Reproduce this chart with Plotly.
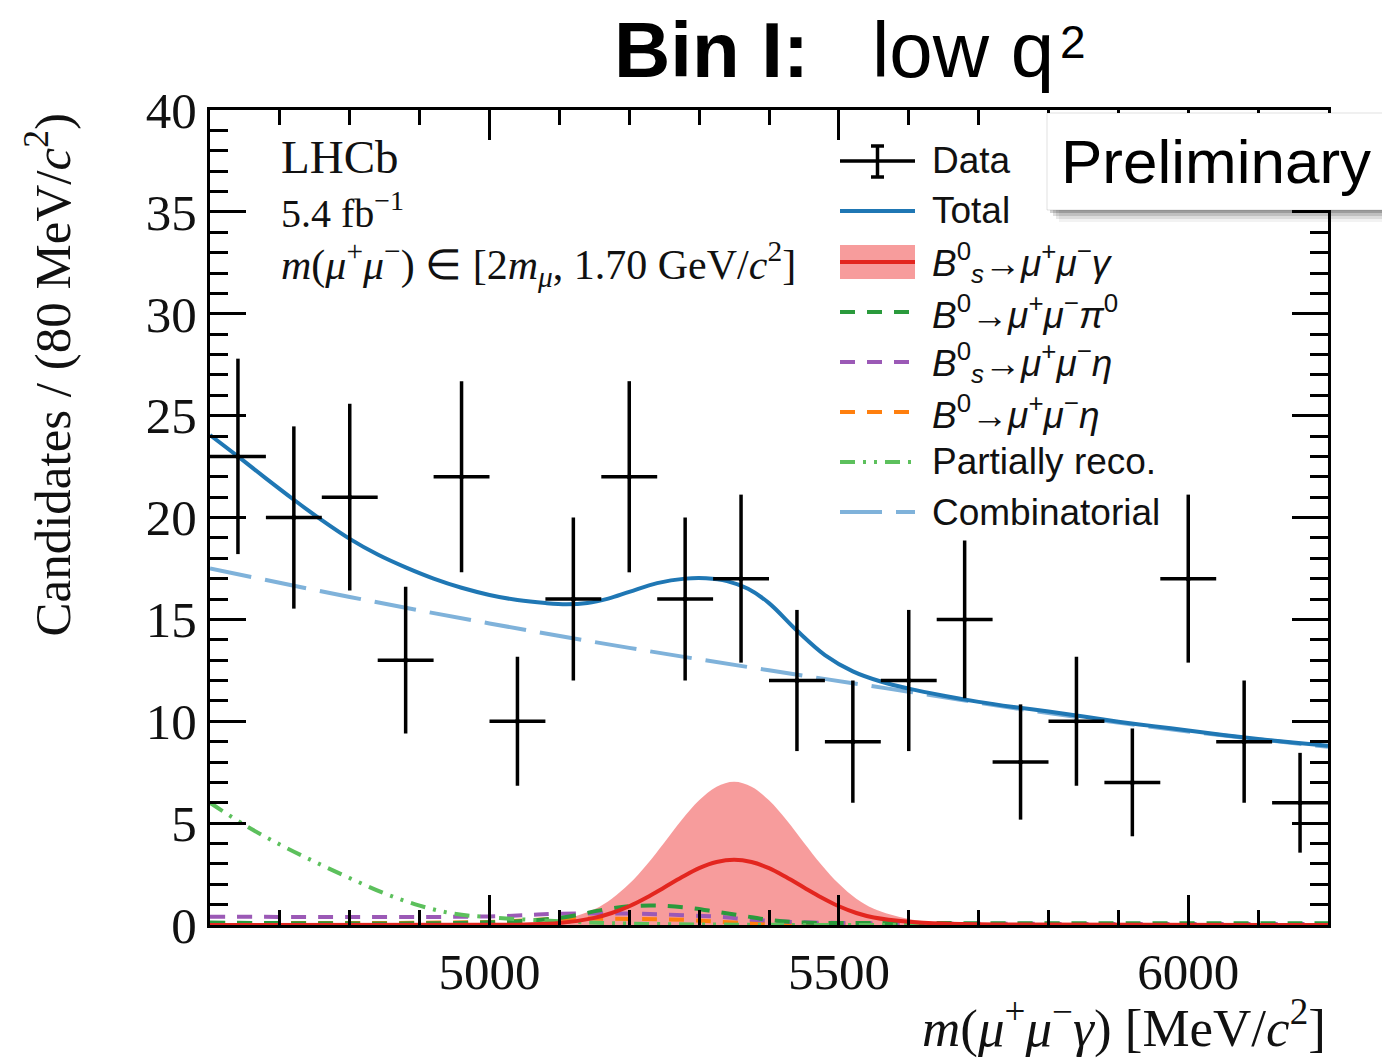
import numpy as np
import plotly.graph_objects as go

# ---------------- data ----------------
bin_centers = [4640, 4720, 4800, 4880, 4960, 5040, 5120, 5200, 5280, 5360,
               5440, 5520, 5600, 5680, 5760, 5840, 5920, 6000, 6080, 6160]
counts = [23, 20, 21, 13, 22, 10, 16, 22, 16, 17,
          12, 9, 12, 15, 8, 10, 7, 17, 9, 6]
half_bin = 40
count_err = [float(np.sqrt(c)) for c in counts]

total_m = [4600, 4640, 4680, 4720, 4760, 4800, 4840, 4880, 4920, 4960, 5000, 5040,
           5080, 5110, 5140, 5170, 5200, 5240, 5280, 5310, 5340, 5370, 5400, 5440,
           5480, 5520, 5560, 5600, 5650, 5700, 5750, 5800, 5850, 5900, 5950, 6000,
           6050, 6100, 6150, 6200]
total_y = [24.05, 23.0, 21.92, 20.87, 19.87, 18.95, 18.18, 17.55, 17.0, 16.55, 16.2, 15.95,
           15.8, 15.74, 15.8, 16.02, 16.35, 16.78, 17.0, 17.02, 16.88, 16.5, 15.8, 14.45,
           13.25, 12.45, 11.95, 11.6, 11.25, 10.95, 10.7, 10.48, 10.23, 9.98, 9.76, 9.55,
           9.33, 9.13, 8.96, 8.8]

comb_m = [4600, 4800, 5000, 5200, 5400, 5600, 5800, 6000, 6200]
comb_y = [17.5, 16.1, 14.8, 13.6, 12.5, 11.45, 10.4, 9.5, 8.75]

sig_m = [4600, 5000, 5050, 5100, 5150, 5175, 5200, 5225, 5250, 5275, 5300, 5325, 5350,
         5375, 5400, 5425, 5450, 5475, 5500, 5525, 5550, 5600, 5650, 5750, 6200]
sig_y = [0.0, 0.01, 0.03, 0.1, 0.35, 0.59, 0.92, 1.35, 1.84, 2.34, 2.79, 3.09, 3.2,
         3.09, 2.79, 2.34, 1.84, 1.35, 0.92, 0.59, 0.37, 0.16, 0.07, 0.02, 0.0]
band_y = [0.0, 0.03, 0.08, 0.22, 0.77, 1.29, 2.02, 2.96, 4.04, 5.15, 6.12, 6.79, 7.03,
          6.79, 6.12, 5.15, 4.04, 2.96, 2.02, 1.29, 0.8, 0.3, 0.12, 0.04, 0.0]

preco_m = [4600, 4650, 4700, 4750, 4800, 4850, 4900, 4950, 5000, 5100, 5200, 5400, 6200]
preco_y = [6.0, 4.9, 3.95, 3.1, 2.3, 1.55, 0.95, 0.55, 0.38, 0.18, 0.07, 0.01, 0.0]

pi0_m = [4600, 5000, 5100, 5168, 5205, 5244, 5284, 5325, 5363, 5401, 5450, 5550, 6200]
pi0_y = [0.12, 0.13, 0.35, 0.78, 0.93, 0.95, 0.85, 0.65, 0.45, 0.25, 0.12, 0.1, 0.08]

bseta_m = [4600, 5000, 5100, 5200, 5280, 5330, 5370, 5420, 5500, 6200]
bseta_y = [0.41, 0.42, 0.55, 0.56, 0.48, 0.4, 0.28, 0.17, 0.1, 0.05]

b0eta_m = [4600, 5000, 5100, 5200, 5280, 5350, 5450, 6200]
b0eta_y = [0.1, 0.15, 0.3, 0.3, 0.25, 0.12, 0.05, 0.02]

# ---------------- colours ----------------
c_total = "#1f77b4"
c_comb = "#7fb2da"
c_sig = "#e3261f"
c_band = "rgba(246,145,145,0.9)"
c_pi0 = "#2a9a3c"
c_bseta = "#9b59b6"
c_b0eta = "#ff7f0e"
c_preco = "#5cc05c"

fig = go.Figure()

fig.add_trace(go.Scatter(x=sig_m, y=band_y, mode="lines", line=dict(width=0, shape="spline"),
                         fill="tozeroy", fillcolor=c_band, hoverinfo="skip", showlegend=False))
fig.add_trace(go.Scatter(x=comb_m, y=comb_y, mode="lines",
                         line=dict(color=c_comb, width=4, dash="42px,14px", shape="spline"),
                         showlegend=False))
fig.add_trace(go.Scatter(x=b0eta_m, y=b0eta_y, mode="lines",
                         line=dict(color=c_b0eta, width=4, dash="15px,12px", shape="spline"),
                         showlegend=False))
fig.add_trace(go.Scatter(x=bseta_m, y=bseta_y, mode="lines",
                         line=dict(color=c_bseta, width=4, dash="15px,12px", shape="spline"),
                         showlegend=False))
fig.add_trace(go.Scatter(x=pi0_m, y=pi0_y, mode="lines",
                         line=dict(color=c_pi0, width=4, dash="15px,12px", shape="spline"),
                         showlegend=False))
fig.add_trace(go.Scatter(x=preco_m, y=preco_y, mode="lines",
                         line=dict(color=c_preco, width=4, dash="15px,8px,3px,8px,3px,8px",
                                   shape="spline"),
                         showlegend=False))
fig.add_trace(go.Scatter(x=sig_m, y=sig_y, mode="lines",
                         line=dict(color=c_sig, width=4, shape="spline"), showlegend=False))
fig.add_trace(go.Scatter(x=total_m, y=total_y, mode="lines",
                         line=dict(color=c_total, width=4, shape="spline", smoothing=1.0),
                         showlegend=False))
fig.add_trace(go.Scatter(
    x=bin_centers, y=counts, mode="markers",
    marker=dict(color="black", size=5),
    error_x=dict(type="constant", value=half_bin, width=0, thickness=3.5, color="black"),
    error_y=dict(type="data", array=count_err, width=0, thickness=3.5, color="black"),
    showlegend=False))

# ---------------- layout helpers ----------------
W, H = 1382, 1058
L, R, T, B = 210, 54, 110, 133
PW, PH = W - L - R, H - T - B


def px(x):
    return (x - L) / PW


def py(y):
    return (H - B - y) / PH


serif = "Liberation Serif, Times New Roman, serif"
sans = "Liberation Sans, Arial, Helvetica, sans-serif"

shapes = []
annotations = []

# Legend (drawn manually)
lx0, lx1, ltx = 840, 915, 930
rows = [161, 211, 262, 312, 362, 412, 462, 512]
labels = [
    "Data",
    "Total",
    "<i>B</i><sup>0</sup><sub><i>s</i></sub>\u2192<i>\u03bc</i><sup>+</sup><i>\u03bc</i><sup>\u2212</sup><i>\u03b3</i>",
    "<i>B</i><sup>0</sup>\u2192<i>\u03bc</i><sup>+</sup><i>\u03bc</i><sup>\u2212</sup><i>\u03c0</i><sup>0</sup>",
    "<i>B</i><sup>0</sup><sub><i>s</i></sub>\u2192<i>\u03bc</i><sup>+</sup><i>\u03bc</i><sup>\u2212</sup><i>\u03b7</i>",
    "<i>B</i><sup>0</sup>\u2192<i>\u03bc</i><sup>+</sup><i>\u03bc</i><sup>\u2212</sup><i>\u03b7</i>",
    "Partially reco.",
    "Combinatorial",
]
for yy, lab in zip(rows, labels):
    annotations.append(dict(xref="paper", yref="paper", x=px(ltx), y=py(yy), text=lab,
                            showarrow=False, xanchor="left", yanchor="middle",
                            font=dict(family=sans, size=37, color="#111")))

# data symbol
shapes.append(dict(type="line", xref="paper", yref="paper", x0=px(lx0), x1=px(lx1),
                   y0=py(161), y1=py(161), line=dict(color="black", width=3.5)))
shapes.append(dict(type="line", xref="paper", yref="paper", x0=px(877.5), x1=px(877.5),
                   y0=py(146), y1=py(177), line=dict(color="black", width=3.5)))
for cy in (146, 177):
    shapes.append(dict(type="line", xref="paper", yref="paper", x0=px(871), x1=px(884),
                       y0=py(cy), y1=py(cy), line=dict(color="black", width=3.5)))
# total
shapes.append(dict(type="line", xref="paper", yref="paper", x0=px(lx0), x1=px(lx1),
                   y0=py(211), y1=py(211), line=dict(color=c_total, width=4)))
# signal band + line
shapes.append(dict(type="rect", xref="paper", yref="paper", x0=px(lx0), x1=px(lx1),
                   y0=py(279), y1=py(245), fillcolor=c_band, line=dict(width=0)))
shapes.append(dict(type="line", xref="paper", yref="paper", x0=px(lx0), x1=px(lx1),
                   y0=py(262), y1=py(262), line=dict(color=c_sig, width=4)))
for yy, col, dash in [(312, c_pi0, "15px,12px"), (362, c_bseta, "15px,12px"),
                      (412, c_b0eta, "15px,12px"),
                      (462, c_preco, "15px,8px,3px,8px,3px,8px"),
                      (512, c_comb, "42px,14px")]:
    shapes.append(dict(type="line", xref="paper", yref="paper", x0=px(lx0), x1=px(lx1),
                       y0=py(yy), y1=py(yy), line=dict(color=col, width=4, dash=dash)))

# LHCb labels
annotations += [
    dict(xref="paper", yref="paper", x=px(279), y=py(157), text="LHCb", showarrow=False,
         xanchor="left", yanchor="middle", font=dict(family=serif, size=47, color="#111")),
    dict(xref="paper", yref="paper", x=px(279), y=py(211), text="5.4 fb<sup>\u22121</sup>",
         showarrow=False, xanchor="left", yanchor="middle",
         font=dict(family=serif, size=40, color="#111")),
    dict(xref="paper", yref="paper", x=px(279), y=py(264),
         text="<i>m</i>(<i>\u03bc</i><sup>+</sup><i>\u03bc</i><sup>\u2212</sup>) \u2208 [2<i>m</i><sub><i>\u03bc</i></sub>, 1.70 GeV/<i>c</i><sup>2</sup>]",
         showarrow=False, xanchor="left", yanchor="middle",
         font=dict(family=serif, size=42, color="#111")),
]

# Title
annotations += [
    dict(xref="paper", yref="paper", x=px(612), y=py(50), text="<b>Bin I:</b>",
         showarrow=False, xanchor="left", yanchor="middle",
         font=dict(family=sans, size=78, color="black")),
    dict(xref="paper", yref="paper", x=px(870), y=py(50), text="low q",
         showarrow=False, xanchor="left", yanchor="middle",
         font=dict(family=sans, size=78, color="black")),
    dict(xref="paper", yref="paper", x=px(1058), y=py(42), text="2",
         showarrow=False, xanchor="left", yanchor="middle",
         font=dict(family=sans, size=46, color="black")),
]

# Preliminary box with soft shadow
for off, op in [(12, 0.05), (9, 0.09), (6, 0.13), (3, 0.18)]:
    shapes.append(dict(type="rect", xref="paper", yref="paper",
                       x0=px(1047 + off), x1=px(1390), y0=py(210 + off), y1=py(113 + off),
                       fillcolor=f"rgba(0,0,0,{op})", line=dict(width=0), layer="above"))
shapes.append(dict(type="rect", xref="paper", yref="paper", x0=px(1047), x1=px(1390),
                   y0=py(210), y1=py(113), fillcolor="white",
                   line=dict(width=1, color="rgba(0,0,0,0.12)"), layer="above"))
annotations.append(dict(xref="paper", yref="paper", x=px(1216), y=py(162), text="Preliminary",
                        showarrow=False, xanchor="center", yanchor="middle",
                        font=dict(family=sans, size=62, color="black")))

# Axis titles
annotations.append(dict(xref="paper", yref="paper", x=px(48), y=py(112),
                        text="Candidates / (80 MeV/<i>c</i><sup>2</sup>)", textangle=-90,
                        showarrow=False, xanchor="center", yanchor="top",
                        font=dict(family=serif, size=51, color="#111")))
annotations.append(dict(xref="paper", yref="paper", x=1.0, y=py(1024),
                        text="<i>m</i>(<i>\u03bc</i><sup>+</sup><i>\u03bc</i><sup>\u2212</sup><i>\u03b3</i>) [MeV/<i>c</i><sup>2</sup>]",
                        showarrow=False, xanchor="right", yanchor="middle",
                        font=dict(family=serif, size=53, color="#111")))

fig.update_layout(
    width=W, height=H,
    margin=dict(l=L, r=R, t=T, b=B),
    paper_bgcolor="white", plot_bgcolor="white",
    showlegend=False,
    shapes=shapes, annotations=annotations,
    xaxis=dict(range=[4600, 6200], tick0=5000, dtick=500, ticks="inside", ticklen=30,
               tickwidth=3, tickcolor="black", showgrid=False, zeroline=False,
               showline=True, linewidth=3, linecolor="black", mirror="ticks",
               tickfont=dict(family=serif, size=51, color="#111"),
               minor=dict(dtick=100, tick0=4600, ticks="inside", ticklen=15, tickwidth=3,
                          tickcolor="black", showgrid=False)),
    yaxis=dict(range=[0, 40], tick0=0, dtick=5, ticks="inside", ticklen=36,
               tickwidth=3, tickcolor="black", showgrid=False, zeroline=False,
               showline=True, linewidth=3, linecolor="black", mirror="ticks",
               tickfont=dict(family=serif, size=51, color="#111"),
               minor=dict(dtick=1, ticks="inside", ticklen=18, tickwidth=3,
                          tickcolor="black", showgrid=False)),
)

fig.write_html("out.html")
